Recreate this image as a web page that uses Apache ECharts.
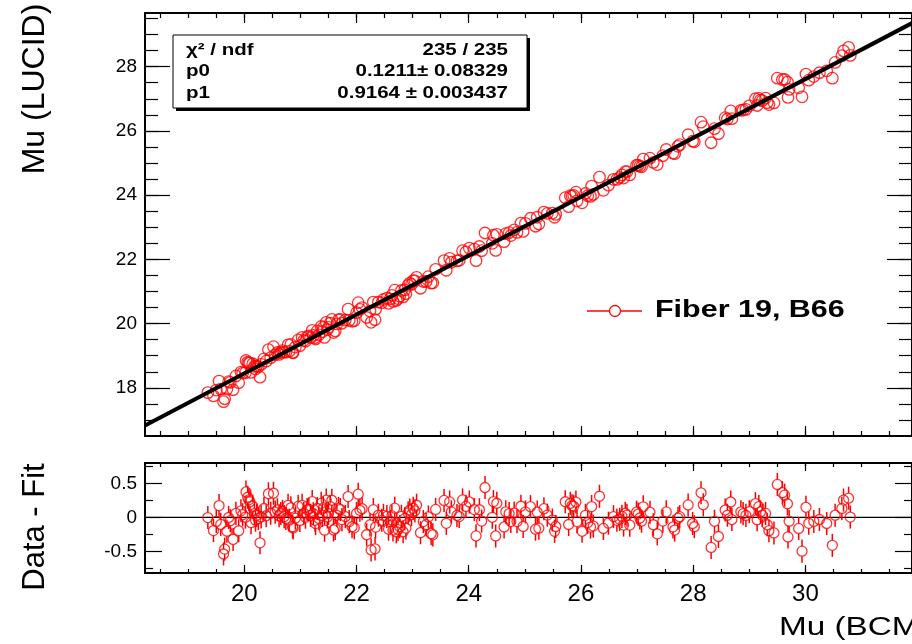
<!DOCTYPE html>
<html>
<head>
<meta charset="utf-8">
<script src="https://cdn.jsdelivr.net/npm/echarts@6/dist/echarts.min.js"></script>
<style>
html,body{margin:0;padding:0;background:#fff;}
#chart{width:912px;height:644px;}
</style>
</head>
<body>
<div id="chart"></div>
<script>
// ---------------- data ----------------
const muBCM = [
19.35,19.45,19.50,19.55,19.58,19.63,19.65,19.69,19.72,19.75,19.80,19.85,19.90,19.94,19.97,
20.02,20.03,20.06,20.08,20.10,20.12,20.15,20.18,20.20,20.22,20.25,20.28,20.30,20.35,20.39,20.43,20.47,20.52,20.55,20.59,20.62,20.65,20.68,20.71,20.74,20.78,20.80,20.83,20.86,20.87,20.91,20.96,20.99,
21.03,21.06,21.09,21.12,21.15,21.18,21.21,21.23,21.26,21.27,21.30,21.33,21.37,21.39,21.41,21.43,21.46,21.48,21.50,21.53,21.56,21.59,21.62,21.65,21.68,21.71,21.74,21.80,21.85,21.87,21.92,21.96,
22.00,22.03,22.06,22.10,22.18,22.24,22.26,22.30,22.33,22.34,22.39,22.45,22.48,22.54,22.57,22.60,22.63,22.65,22.68,22.71,22.74,22.77,22.80,22.83,22.86,22.88,22.92,22.95,22.98,
23.01,23.04,23.07,23.14,23.19,23.24,23.28,23.33,23.36,23.41,23.56,23.60,23.66,23.69,23.79,23.83,23.89,23.95,
24.01,24.10,24.13,24.19,24.23,24.29,24.42,24.44,24.48,24.50,24.63,24.66,24.72,24.75,24.81,24.86,24.93,24.97,
25.01,25.10,25.19,25.22,25.25,25.34,25.40,25.49,25.53,25.55,25.72,25.78,25.81,25.84,25.87,25.91,25.93,
26.02,26.08,26.12,26.17,26.19,26.22,26.33,26.40,26.49,26.58,26.64,26.69,26.73,26.76,26.79,26.82,26.87,26.99,
27.02,27.05,27.08,27.11,27.23,27.29,27.36,27.46,27.52,27.64,27.67,27.73,27.76,27.91,27.99,
28.02,28.14,28.18,28.32,28.38,28.45,28.57,28.61,28.67,28.69,28.85,28.89,28.94,
29.00,29.11,29.14,29.17,29.20,29.23,29.29,29.32,29.35,29.44,29.50,29.59,29.63,29.68,29.69,29.71,29.88,29.94,
30.01,30.06,30.15,30.25,30.38,30.48,30.53,30.65,30.68,30.77,30.80
];
const muLUCID = [
17.85,17.75,17.93,18.21,17.96,17.57,17.66,17.96,18.19,18.17,17.94,18.37,18.16,18.49,18.46,
18.47,18.85,18.80,18.78,18.77,18.48,18.75,18.67,18.59,18.68,18.66,18.33,18.73,18.90,18.83,19.19,18.94,19.28,19.03,19.10,19.04,19.10,19.16,19.11,19.11,19.34,19.14,19.35,19.10,19.09,19.27,19.49,19.31,
19.57,19.48,19.45,19.59,19.62,19.56,19.79,19.63,19.56,19.52,19.77,19.65,19.91,19.75,19.88,19.57,20.04,19.81,19.88,20.01,20.13,19.72,19.77,19.99,20.12,20.13,20.01,20.11,20.45,20.10,20.07,20.09,
20.34,20.65,20.44,20.50,20.19,20.39,20.04,20.67,20.12,20.45,20.67,20.65,20.75,20.79,20.63,20.77,20.88,20.69,21.04,20.72,20.78,20.85,21.03,20.83,21.05,20.93,21.19,21.26,21.22,
21.34,21.33,21.44,21.10,21.31,21.31,21.46,21.26,21.27,21.69,21.96,21.66,22.03,21.91,21.95,21.97,22.27,22.23,
22.35,22.32,21.96,22.40,22.27,22.82,22.50,22.75,22.28,22.78,22.55,22.80,22.83,22.74,22.92,22.84,23.13,22.87,
23.12,23.28,23.03,23.31,23.10,23.47,23.43,23.44,23.31,23.40,23.92,23.64,23.98,23.97,23.99,24.09,23.82,
23.76,24.05,23.98,23.96,24.28,24.02,24.56,24.15,24.31,24.49,24.49,24.55,24.63,24.53,24.73,24.73,24.63,24.93,
24.93,24.90,24.88,25.12,25.15,25.02,24.95,25.23,25.42,25.31,25.29,25.52,25.57,25.88,25.68,
25.66,26.27,26.13,25.63,26.07,25.91,26.41,26.37,26.62,26.38,26.64,26.65,26.67,
26.78,27.00,26.79,27.01,26.96,26.94,27.02,26.88,26.82,26.87,27.64,27.60,27.60,27.52,27.04,27.29,27.34,27.06,
27.77,27.58,27.69,27.81,27.87,27.64,28.13,28.34,28.49,28.60,28.35
];
const muError = 0.17;          // error on Mu (LUCID)
const p0 = 0.1211, p1 = 0.9164; // fit parameters (from the stats box)

const statsRows = [
  ['\u03C7\u00B2 / ndf', '235 / 235'],
  ['p0', '0.1211\u00B1 0.08329'],
  ['p1', '0.9164 \u00B1 0.003437']
];
const legendLabel = 'Fiber 19, B66';
const xTitle = 'Mu (BCM)';
const yTopTitle = 'Mu (LUCID)';
const yBotTitle = 'Data - Fit';

// tick values
const xMajorTicks = [20,22,24,26,28,30];
const xMinorTicks = [18.5,19,19.5,20,20.5,21,21.5,22,22.5,23,23.5,24,24.5,25,25.5,26,26.5,27,27.5,28,28.5,29,29.5,30,30.5,31,31.5];
const yTopMajorTicks = [18,20,22,24,26,28];
const yTopMinorTicks = [17,17.5,18,18.5,19,19.5,20,20.5,21,21.5,22,22.5,23,23.5,24,24.5,25,25.5,26,26.5,27,27.5,28,28.5,29,29.5];
const yBotMajorTicks = [-0.5,0,0.5];
const yBotMinorTicks = [-0.75,-0.25,0.25,0.75];

// axis ranges
const X_MIN = 18.23, X_MAX = 31.9;
const YT_MIN = 16.5, YT_MAX = 29.67;
const YB_MIN = -0.82, YB_MAX = 0.80;

// ---------------- chart ----------------
const FONT = '"Liberation Sans", Arial, Helvetica, sans-serif';
const RED = '#ff0000';

const topPoints = muBCM.map((x, i) => [x, muLUCID[i]]);
const residuals = muBCM.map((x, i) => [x, +(muLUCID[i] - (p0 + p1 * x)).toFixed(4)]);
const fitLine = [[X_MIN, p0 + p1 * X_MIN], [X_MAX, p0 + p1 * X_MAX]];
const zeroLine = [[X_MIN, 0], [X_MAX, 0]];

function xAxisDef(gridIndex, position, ticks, len, withLine, labelValues) {
  return {
    type: 'value', gridIndex, position, min: X_MIN, max: X_MAX,
    axisLine: { show: withLine, onZero: false, lineStyle: { color: '#000', width: 2 } },
    axisTick: { show: true, inside: true, length: len, customValues: ticks, lineStyle: { color: '#000', width: 1.2 } },
    axisLabel: labelValues ? { show: true, customValues: labelValues, color: '#000', fontFamily: FONT, fontSize: 24, margin: 9 } : { show: false },
    splitLine: { show: false }, minorTick: { show: false }
  };
}
function yAxisDef(gridIndex, position, min, max, ticks, len, withLine, labelValues) {
  return {
    type: 'value', gridIndex, position, min, max,
    axisLine: { show: withLine, onZero: false, lineStyle: { color: '#000', width: 2 } },
    axisTick: { show: true, inside: true, length: len, customValues: ticks, lineStyle: { color: '#000', width: 1.2 } },
    axisLabel: labelValues ? { show: true, customValues: labelValues, color: '#000', fontFamily: FONT, fontSize: 19, margin: 8 } : { show: false },
    splitLine: { show: false }, minorTick: { show: false }
  };
}

function errorBarSeries(xi, yi, data, gap) {
  return {
    type: 'custom', xAxisIndex: xi, yAxisIndex: yi, data, silent: true, z: 3,
    encode: { x: 0, y: 1 },
    renderItem: function (params, api) {
      const x = api.value(0), y = api.value(1);
      const c = api.coord([x, y]);
      const hi = api.coord([x, y + muError]);
      const lo = api.coord([x, y - muError]);
      const children = [];
      const st = { stroke: RED, lineWidth: 1.5 };
      if (c[1] - hi[1] > gap) children.push({ type: 'line', shape: { x1: c[0], y1: c[1] - gap, x2: c[0], y2: hi[1] }, style: st });
      if (lo[1] - c[1] > gap) children.push({ type: 'line', shape: { x1: c[0], y1: c[1] + gap, x2: c[0], y2: lo[1] }, style: st });
      return { type: 'group', children };
    }
  };
}

const chart = echarts.init(document.getElementById('chart'), null, { renderer: 'canvas' });
chart.setOption({
  animation: false,
  backgroundColor: '#fff',
  grid: [
    { left: 145, top: 13, width: 772, height: 423 },
    { left: 145, top: 463, width: 772, height: 110 }
  ],
  xAxis: [
    xAxisDef(0, 'bottom', xMajorTicks, 10, true, null),
    xAxisDef(0, 'bottom', xMinorTicks, 5, false, null),
    xAxisDef(0, 'top', xMajorTicks, 10, true, null),
    xAxisDef(0, 'top', xMinorTicks, 5, false, null),
    xAxisDef(1, 'bottom', xMajorTicks, 8, true, xMajorTicks),
    xAxisDef(1, 'bottom', xMinorTicks, 4, false, null),
    xAxisDef(1, 'top', xMajorTicks, 8, true, null),
    xAxisDef(1, 'top', xMinorTicks, 4, false, null)
  ],
  yAxis: [
    yAxisDef(0, 'left', YT_MIN, YT_MAX, yTopMajorTicks, 25, true, yTopMajorTicks),
    yAxisDef(0, 'left', YT_MIN, YT_MAX, yTopMinorTicks, 13, false, null),
    yAxisDef(0, 'right', YT_MIN, YT_MAX, yTopMajorTicks, 25, true, null),
    yAxisDef(0, 'right', YT_MIN, YT_MAX, yTopMinorTicks, 13, false, null),
    yAxisDef(1, 'left', YB_MIN, YB_MAX, yBotMajorTicks, 17, true, yBotMajorTicks),
    yAxisDef(1, 'left', YB_MIN, YB_MAX, yBotMinorTicks, 8, false, null),
    yAxisDef(1, 'right', YB_MIN, YB_MAX, yBotMajorTicks, 17, true, null),
    yAxisDef(1, 'right', YB_MIN, YB_MAX, yBotMinorTicks, 8, false, null)
  ],
  series: [
    errorBarSeries(0, 0, topPoints, 6),
    {
      type: 'scatter', name: legendLabel, xAxisIndex: 0, yAxisIndex: 0, data: topPoints, silent: true, z: 4,
      symbol: 'circle', symbolSize: 11.5,
      itemStyle: { color: 'rgba(0,0,0,0)', borderColor: RED, borderWidth: 1.3 }
    },
    {
      type: 'line', xAxisIndex: 0, yAxisIndex: 0, data: fitLine, silent: true, z: 6,
      symbol: 'none', lineStyle: { color: '#000', width: 4 }
    },
    {
      type: 'line', xAxisIndex: 4, yAxisIndex: 4, data: zeroLine, silent: true, z: 2,
      symbol: 'none', lineStyle: { color: '#000', width: 1.3 }
    },
    errorBarSeries(4, 4, residuals, 5),
    {
      type: 'scatter', xAxisIndex: 4, yAxisIndex: 4, data: residuals, silent: true, z: 4,
      symbol: 'circle', symbolSize: 10,
      itemStyle: { color: 'rgba(0,0,0,0)', borderColor: RED, borderWidth: 1.3 }
    }
  ],
  graphic: [
    // stats box
    { type: 'rect', shape: { x: 176, y: 38, width: 354, height: 73 }, style: { fill: '#000' }, z: 20 },
    { type: 'rect', shape: { x: 173, y: 35, width: 354, height: 73 }, style: { fill: '#fff', stroke: '#000', lineWidth: 1 }, z: 21 },
    ...statsRows.flatMap((row, i) => {
      const y = [51, 72, 94][i];
      return [
        { type: 'text', x: 186, y, scaleX: 1.28, z: 22,
          style: { text: row[0], font: 'bold 16px ' + FONT, fill: '#000', align: 'left', verticalAlign: 'middle', textAlign: 'left', textVerticalAlign: 'middle' } },
        { type: 'text', x: 508, y, scaleX: 1.28, z: 22,
          style: { text: row[1], font: 'bold 16px ' + FONT, fill: '#000', align: 'right', verticalAlign: 'middle', textAlign: 'right', textVerticalAlign: 'middle' } }
      ];
    }),
    // legend
    { type: 'line', shape: { x1: 587, y1: 311, x2: 642, y2: 311 }, style: { stroke: RED, lineWidth: 1.3 }, z: 20 },
    { type: 'circle', shape: { cx: 615, cy: 311, r: 5.5 }, style: { fill: '#fff', stroke: RED, lineWidth: 1.3 }, z: 21 },
    { type: 'text', x: 655, y: 310, scaleX: 1.27, z: 21,
      style: { text: legendLabel, font: 'bold 24px ' + FONT, fill: '#000', align: 'left', verticalAlign: 'middle', textAlign: 'left', textVerticalAlign: 'middle' } },
    // axis titles
    { type: 'text', x: 779, y: 628, scaleX: 1.28, z: 21,
      style: { text: xTitle, font: '26px ' + FONT, fill: '#000', align: 'left', verticalAlign: 'middle', textAlign: 'left', textVerticalAlign: 'middle' } },
    { type: 'text', x: 35, y: 89, rotation: Math.PI / 2, z: 21,
      style: { text: yTopTitle, font: '32px ' + FONT, fill: '#000', align: 'center', verticalAlign: 'middle', textAlign: 'center', textVerticalAlign: 'middle' } },
    { type: 'text', x: 35, y: 527, rotation: Math.PI / 2, z: 21,
      style: { text: yBotTitle, font: '31px ' + FONT, fill: '#000', align: 'center', verticalAlign: 'middle', textAlign: 'center', textVerticalAlign: 'middle' } }
  ]
});
</script>
</body>
</html>
